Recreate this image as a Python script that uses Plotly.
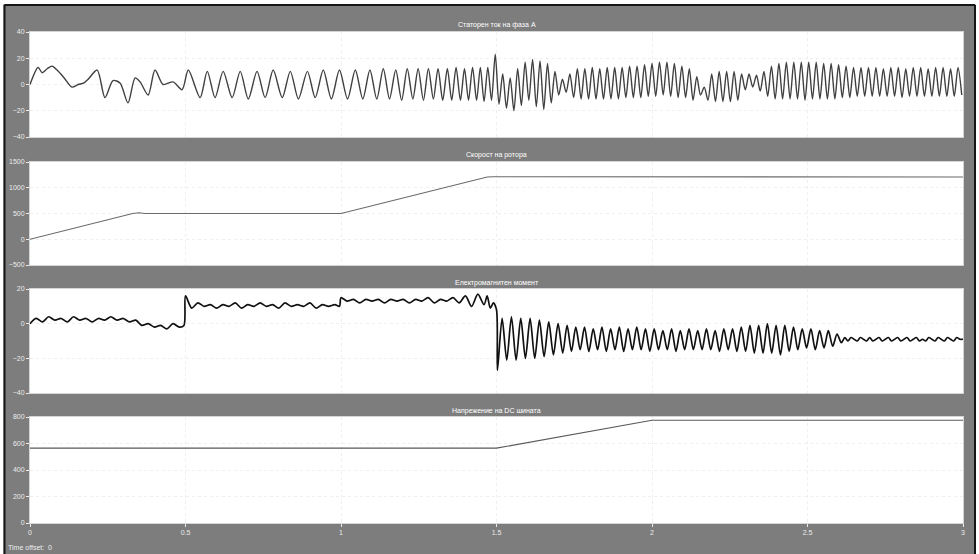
import plotly.graph_objects as go

# ---------------- DATA ----------------
x_ticks = [0, 0.5, 1, 1.5, 2, 2.5, 3]
x_tick_labels = ["0", "0.5", "1", "1.5", "2", "2.5", "3"]

titles = ["Статорен ток на фаза А", "Скорост на ротора",
          "Електромагнитен момент", "Напрежение на DC шината"]

# Panel 1: stator current phase A (extrema)
ia_t_a = [0.000, 0.026, 0.039, 0.055, 0.071, 0.087, 0.110, 0.135, 0.155, 0.172,
          0.187, 0.216, 0.241, 0.267, 0.290, 0.315, 0.338, 0.354, 0.380, 0.402,
          0.428, 0.460, 0.489, 0.509, 0.547, 0.570, 0.595, 0.621]
ia_v_a = [0, 13, 9, 12, 14, 11, 5, -2, 0, 1,
          4, 11, -10, 3, 1, -14, 5, 2, -8, 11,
          0, 2, -4, 11, -10, 10, -10, 10]
ia_t_b = [0.650, 0.676, 0.702, 0.730, 0.756, 0.782, 0.811, 0.837, 0.863, 0.892,
          0.917, 0.943, 0.969, 0.995]
ia_v_b = [-10, 10, -11, 10, -10, 11, -10, 10, -11, 10,
          -10, 11, -11, 11]
ia_t_c = [1.021, 1.046, 1.070, 1.093, 1.115, 1.136, 1.156, 1.176, 1.195, 1.213,
          1.231, 1.248, 1.265, 1.281, 1.297, 1.312, 1.327, 1.342, 1.356, 1.370,
          1.384, 1.397, 1.410, 1.423, 1.436, 1.448, 1.460, 1.472, 1.484, 1.496]
ia_v_c = [-11, 11, -11, 11, -11, 12, -11, 11, -12, 12,
          -11, 12, -12, 12, -11, 12, -12, 12, -12, 13,
          -12, 12, -12, 13, -12, 13, -13, 13, -12, 23]
ia_t_d = [1.508, 1.520, 1.532, 1.544, 1.556, 1.568, 1.580, 1.592, 1.604, 1.616,
          1.628, 1.640, 1.652, 1.664, 1.676, 1.688, 1.700, 1.712, 1.724, 1.736,
          1.748, 1.760, 1.772, 1.784, 1.796, 1.808, 1.820, 1.832, 1.844, 1.856,
          1.868, 1.880, 1.892, 1.904, 1.916, 1.928, 1.940, 1.952, 1.964, 1.976,
          1.988, 2.000, 2.012, 2.024, 2.036, 2.048, 2.060, 2.072, 2.084, 2.096,
          2.108, 2.120, 2.132, 2.144, 2.156, 2.168, 2.180, 2.192, 2.204, 2.216,
          2.228, 2.240, 2.252, 2.264, 2.276, 2.288, 2.300, 2.312, 2.324, 2.336,
          2.348, 2.360, 2.372, 2.384, 2.396, 2.408, 2.420, 2.432, 2.444, 2.456,
          2.468, 2.480, 2.492, 2.504, 2.516, 2.528, 2.540, 2.552, 2.564, 2.576,
          2.588, 2.600, 2.612, 2.624, 2.636, 2.648, 2.660, 2.672, 2.684, 2.696,
          2.708, 2.720, 2.732, 2.744, 2.756, 2.768, 2.780, 2.792, 2.804, 2.816,
          2.828, 2.840, 2.852, 2.864, 2.876, 2.888, 2.900, 2.912, 2.924, 2.936,
          2.948, 2.960, 2.972, 2.984, 2.996]
ia_v_d = [-15, 8, -18, 5, -20, 12, -16, 17, -12, 19,
          -17, 18, -19, 16, -14, 10, -8, 4, -6, 8,
          -10, 12, -11, 12, -11, 13, -11, 12, -11, 13,
          -11, 13, -11, 13, -10, 14, -10, 14, -10, 15,
          -9, 16, -9, 17, -8, 17, -9, 16, -10, 14,
          -10, 12, -12, 6, -8, -2, -12, 8, -13, 10,
          -13, 10, -13, 10, -12, 8, -4, 8, -2, 7,
          -5, 10, -9, 14, -11, 16, -11, 17, -11, 17,
          -11, 17, -12, 17, -11, 17, -11, 16, -11, 16,
          -11, 15, -10, 14, -10, 13, -9, 13, -9, 13,
          -9, 13, -9, 12, -9, 13, -9, 13, -10, 12,
          -9, 13, -9, 13, -9, 12, -9, 13, -9, 13,
          -9, 12, -9, 13, -8]

# Panel 2: rotor speed
speed_t = [0.0, 0.33, 0.35, 0.37, 1.0, 1.47, 1.49, 3.0]
speed_v = [0, 500, 515, 500, 500, 1210, 1215, 1210]

# Panel 3: electromagnetic torque
te_t_a = [0.00, 0.02, 0.04, 0.06, 0.08, 0.10, 0.12, 0.14, 0.16, 0.18,
          0.20, 0.22, 0.24, 0.26, 0.28, 0.30, 0.32, 0.34, 0.36, 0.38,
          0.40, 0.42, 0.44, 0.46, 0.48, 0.495, 0.50, 0.52, 0.54, 0.56,
          0.58, 0.60, 0.62, 0.64, 0.66, 0.68, 0.70, 0.72, 0.74, 0.76,
          0.78, 0.80, 0.82, 0.84, 0.86, 0.88, 0.90, 0.92, 0.94, 0.96,
          0.98, 0.995, 1.00, 1.02, 1.04, 1.06, 1.08, 1.10, 1.12, 1.14,
          1.16, 1.18, 1.20, 1.22, 1.24, 1.26, 1.28, 1.30, 1.32, 1.34,
          1.36, 1.38, 1.40, 1.42, 1.44, 1.46, 1.47, 1.48, 1.49, 1.500, 1.503]
te_v_a = [0, 3, 1, 4, 2, 3, 1, 4, 2, 3,
          1, 3, 2, 4, 2, 3, 1, 2, -1, 0,
          -2, -1, -3, 0, -2, -1, 16, 9, 12, 10,
          11, 9, 11, 10, 12, 9, 11, 10, 12, 10,
          11, 9, 12, 10, 11, 10, 12, 9, 11, 10,
          11, 10, 15, 13, 14, 12, 14, 13, 14, 12,
          14, 13, 14, 12, 14, 13, 15, 12, 14, 13,
          15, 12, 16, 10, 17, 11, 16, 9, 12, 8, -27]
te_t_b = [1.518, 1.533, 1.548, 1.563, 1.578, 1.593, 1.608, 1.623, 1.638, 1.653,
          1.668, 1.683, 1.698, 1.713]
te_v_b = [3, -21, 4, -21, 3, -20, 3, -20, 2, -19,
          1, -18, 0, -17]
te_t_c = [1.727, 1.741, 1.755, 1.769, 1.783, 1.797, 1.811, 1.825, 1.839, 1.853,
          1.867, 1.881, 1.895, 1.909, 1.923, 1.937, 1.951, 1.965, 1.979, 1.993,
          2.007, 2.021, 2.035, 2.049, 2.063, 2.077, 2.091, 2.105, 2.119, 2.133,
          2.147, 2.161, 2.175, 2.189, 2.203, 2.217, 2.231, 2.245, 2.259, 2.273,
          2.287, 2.301, 2.315, 2.329, 2.343, 2.357, 2.371, 2.385, 2.399, 2.413,
          2.427, 2.441, 2.455, 2.469, 2.483, 2.497, 2.511, 2.525, 2.539, 2.553,
          2.567, 2.581, 2.595, 2.609]
te_v_c = [-1, -16, -2, -15, -2, -16, -3, -15, -2, -16,
          -3, -15, -2, -16, -3, -15, -2, -15, -3, -16,
          -3, -15, -4, -15, -3, -16, -4, -15, -3, -15,
          -4, -15, -3, -15, -4, -16, -3, -15, -3, -16,
          -2, -16, -1, -17, -1, -17, 0, -17, -1, -18,
          -1, -16, -2, -15, -3, -14, -3, -15, -4, -14,
          -4, -13, -6, -11]
te_t_d = [2.62, 2.63, 2.64, 2.65, 2.66, 2.67, 2.68, 2.69, 2.70, 2.71,
          2.72, 2.73, 2.74, 2.75, 2.76, 2.77, 2.78, 2.79, 2.80, 2.81,
          2.82, 2.83, 2.84, 2.85, 2.86, 2.87, 2.88, 2.89, 2.90, 2.91,
          2.92, 2.93, 2.94, 2.95, 2.96, 2.97, 2.98, 2.99, 3.00]
te_v_d = [-8, -10, -8, -9, -10, -8, -9, -10, -8, -10,
          -9, -8, -10, -9, -8, -10, -9, -8, -10, -9,
          -8, -10, -9, -8, -10, -9, -10, -8, -9, -10,
          -8, -9, -10, -8, -9, -10, -8, -9, -9]

# Panel 4: DC bus voltage
vdc_t = [0.0, 1.5, 2.0, 3.0]
vdc_v = [565, 565, 775, 775]

y_ticks = [[-40, -20, 0, 20, 40], [-500, 0, 500, 1000, 1500],
           [-40, -20, 0, 20], [0, 200, 400, 600, 800]]
y_ranges = [[-40, 40], [-500, 1500], [-40, 20], [0, 800]]

# ---------------- BUILD ----------------
def join(pairs):
    xs, ys = [], []
    for t, v in pairs:
        n = min(len(t), len(v))
        xs += list(t[:n]); ys += list(v[:n])
    return xs, ys

ia_x, ia_y = join([(ia_t_a, ia_v_a), (ia_t_b, ia_v_b), (ia_t_c, ia_v_c), (ia_t_d, ia_v_d)])
te_x, te_y = join([(te_t_a, te_v_a), (te_t_b, te_v_b), (te_t_c, te_v_c), (te_t_d, te_v_d)])

W, H = 979, 554
L, R, T, B = 30, 16, 32, 31
PH = H - T - B
PW = W - L - R

def py(p):
    return (H - B - p) / PH

def px(p):
    return (p - L) / PW

panels_px = [(32, 137), (162, 265), (289, 393), (417, 523)]
title_py = [25, 155, 283, 411]

GREY = "#7d7d7d"
TXT = "#ececec"
FONT = "Liberation Sans"
GRID = "#efefef"

fig = go.Figure()
series = [(ia_x, ia_y, "#404040", 1.4, "spline"), (speed_t, speed_v, "#6a6a6a", 1.1, "linear"),
          (te_x, te_y, "#111111", 1.7, "spline"), (vdc_t, vdc_v, "#5a5a5a", 1.1, "linear")]
for i, (xs, ys, c, w, shp) in enumerate(series):
    sfx = "" if i == 0 else str(i + 1)
    fig.add_trace(go.Scatter(x=xs, y=ys, mode="lines",
                             line=dict(color=c, width=w, shape=shp, smoothing=0.8),
                             xaxis="x" + sfx, yaxis="y" + sfx, showlegend=False,
                             hoverinfo="skip"))

layout = dict(width=W, height=H, paper_bgcolor=GREY, plot_bgcolor="white",
              margin=dict(l=L, r=R, t=T, b=B, autoexpand=False),
              font=dict(family=FONT, size=7, color=TXT), showlegend=False)
for i in range(4):
    sfx = "" if i == 0 else str(i + 1)
    top, bot = panels_px[i]
    layout["xaxis" + sfx] = dict(domain=[0, 1], range=[0, 3], anchor="y" + sfx,
                                 tickvals=x_ticks, ticktext=x_tick_labels,
                                 showticklabels=(i == 3), ticks="outside" if i == 3 else "",
                                 ticklen=3, tickcolor=TXT,
                                 showgrid=True, gridcolor=GRID, griddash="dot",
                                 zeroline=False, showline=True, linecolor="#d5d5d5",
                                 mirror=True, tickfont=dict(size=7, color=TXT, family=FONT))
    layout["yaxis" + sfx] = dict(domain=[py(bot), py(top)], range=y_ranges[i],
                                 anchor="x" + sfx, tickvals=y_ticks[i],
                                 ticks="outside", ticklen=3, tickcolor=TXT,
                                 showgrid=True, gridcolor=GRID, griddash="dot",
                                 zeroline=False, showline=True, linecolor="#d5d5d5",
                                 mirror=True, tickfont=dict(size=7, color=TXT, family=FONT))
fig.update_layout(**layout)

ann = []
for i, t in enumerate(titles):
    ann.append(dict(text=t, x=0.5, y=py(title_py[i]), xref="paper", yref="paper",
                    xanchor="center", yanchor="middle", showarrow=False,
                    font=dict(size=7, color="white", family=FONT)))
ann.append(dict(text="Time offset:  0", x=px(6), y=py(547), xref="paper", yref="paper",
                xanchor="left", yanchor="middle", showarrow=False,
                font=dict(size=7, color=TXT, family=FONT)))
fig.update_layout(annotations=ann)

shapes = [
    dict(type="rect", xref="paper", yref="paper", x0=px(0), x1=px(W), y0=py(-2), y1=py(4),
         fillcolor="white", line=dict(width=0), layer="above"),
    dict(type="rect", xref="paper", yref="paper", x0=px(-2), x1=px(3.5), y0=py(H + 2), y1=py(-2),
         fillcolor="white", line=dict(width=0), layer="above"),
    dict(type="rect", xref="paper", yref="paper", x0=px(975.5), x1=px(W + 2), y0=py(H + 2), y1=py(-2),
         fillcolor="white", line=dict(width=0), layer="above"),
    dict(type="line", xref="paper", yref="paper", x0=px(4.5), x1=px(4.5), y0=py(5), y1=py(H + 2),
         line=dict(color="#151515", width=2), layer="above"),
    dict(type="line", xref="paper", yref="paper", x0=px(4.5), x1=px(975), y0=py(5), y1=py(5),
         line=dict(color="#151515", width=2), layer="above"),
    dict(type="line", xref="paper", yref="paper", x0=px(975), x1=px(975), y0=py(5), y1=py(H + 2),
         line=dict(color="#151515", width=2), layer="above"),
]
fig.update_layout(shapes=shapes)

fig.write_html("out.html", config={"displayModeBar": False},
               post_script="document.body.style.margin='0';document.body.style.overflow='hidden';")
